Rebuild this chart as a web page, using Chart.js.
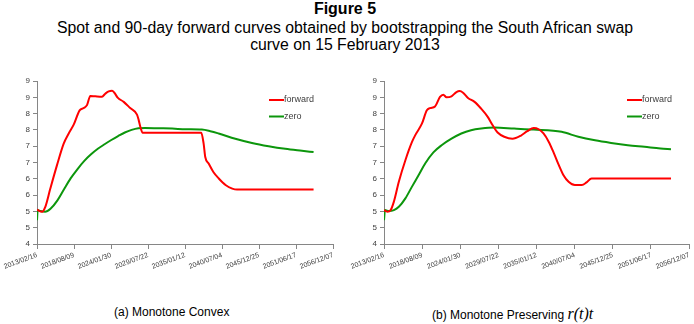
<!DOCTYPE html>
<html>
  <head>
    <meta charset="UTF-8" />
    <title>Figure 5</title>
    <script src="https://cdn.jsdelivr.net/npm/chart.js"></script>
    <style>
      body {
        margin: 0;
        width: 694px;
        height: 324px;
        background: white;
        font-family: "Liberation Sans", Arial, sans-serif;
        color: black;
        position: relative;
        overflow: hidden;
      }
      .title {
        position: absolute;
        left: 0;
        width: 690px;
        text-align: center;
        white-space: nowrap;
      }
      .box {
        position: absolute;
        top: 70px;
        width: 347px;
        height: 210px;
      }
      .sub {
        position: absolute;
        top: 305px;
        font-size: 12px;
        white-space: nowrap;
      }
      .math {
        font-family: "Liberation Serif", serif;
        font-style: italic;
        font-size: 16px;
      }
    </style>
  </head>
  <body>
    <div class="title" style="top: 0px; font-size: 16px; font-weight: bold">Figure 5</div>
    <div class="title" style="top: 19px; font-size: 15.8px">
      Spot and 90-day forward curves obtained by bootstrapping the South African swap
    </div>
    <div class="title" style="top: 36px; font-size: 15.8px">curve on 15 February 2013</div>

    <div class="box" style="left: 0px"><canvas id="left"></canvas></div>
    <div class="box" style="left: 347px"><canvas id="right"></canvas></div>

    <div class="sub" style="left: 114px">(a) Monotone Convex</div>
    <div class="sub" style="left: 432px">(b) Monotone Preserving <span class="math">r(t)t</span></div>

    <script>
      // x tick labels (every 2000 days from 2013/02/16)
      const xTickLabels = [
        "2013/02/16", "2018/08/09", "2024/01/30", "2029/07/22", "2035/01/12",
        "2040/07/04", "2045/12/25", "2051/06/17", "2056/12/07",
      ];
      const seriesNames = ["forward", "zero"];

      // (a) monotone convex: years from start, rate
      const convexFwdYears = [0, 0.74, 1.23, 1.97, 2.96, 3.95, 4.69, 5.43, 6.31, 6.9, 7.4, 7.89, 8.63, 9.62, 10.1, 10.6, 11.1, 11.45, 11.94, 12.83, 13.8, 14.8, 15.05, 15.3, 15.64, 24.31, 24.66, 24.9, 25.4, 26.1, 26.9, 27.9, 28.9, 29.6, 40.93];
      const convexFwd = [5.05, 4.99, 5.14, 5.7, 6.42, 7.08, 7.39, 7.66, 8.1, 8.17, 8.26, 8.54, 8.53, 8.52, 8.61, 8.68, 8.7, 8.64, 8.49, 8.36, 8.17, 7.97, 7.8, 7.59, 7.41, 7.41, 7.08, 6.67, 6.47, 6.21, 6.01, 5.81, 5.7, 5.67, 5.67];
      const convexZeroYears = [0, 0.1, 0.5, 1.2, 2, 3, 4, 5, 6, 7, 8, 9, 10, 11, 12, 13, 14, 15, 16, 18, 20, 22, 24.4, 25.65, 26.88, 29.35, 31.81, 34.28, 36.74, 39.21, 40.93];
      const convexZero = [4.73, 5.04, 5.01, 4.99, 5.08, 5.33, 5.68, 6.02, 6.3, 6.55, 6.75, 6.92, 7.06, 7.19, 7.31, 7.42, 7.5, 7.55, 7.56, 7.55, 7.54, 7.52, 7.51, 7.46, 7.39, 7.23, 7.1, 7.0, 6.92, 6.86, 6.82];

      // (b) monotone preserving r(t)t
      const preservFwdYears = [0, 0.47, 0.95, 1.42, 2.13, 3.07, 4.02, 4.49, 5.44, 6.15, 6.62, 7.33, 8.04, 8.51, 8.98, 9.69, 10.4, 10.87, 11.35, 12.06, 13.0, 13.95, 14.89, 15.6, 16.31, 17.26, 18.44, 19.62, 20.57, 21.5, 22.2, 22.9, 23.66, 24.4, 25.1, 25.77, 26.5, 27.4, 28.4, 29.08, 29.8, 41.2];
      const preservFwd = [5.04, 4.99, 5.04, 5.3, 5.91, 6.57, 7.13, 7.34, 7.69, 8.1, 8.17, 8.22, 8.51, 8.58, 8.5, 8.53, 8.66, 8.69, 8.64, 8.48, 8.36, 8.15, 7.9, 7.64, 7.42, 7.29, 7.23, 7.32, 7.46, 7.56, 7.52, 7.39, 7.13, 6.78, 6.42, 6.11, 5.91, 5.81, 5.81, 5.89, 6.01, 6.01];
      const preservZeroYears = [0, 0.14, 0.71, 1.42, 2.13, 3.07, 4.02, 4.96, 5.91, 7.09, 8.27, 9.69, 11.1, 12.5, 13.95, 15.84, 18.68, 21.5, 25.5, 27.9, 30.3, 32.6, 35.0, 37.4, 39.7, 41.2];
      const preservZero = [4.73, 5.04, 5.01, 5.04, 5.14, 5.4, 5.76, 6.11, 6.47, 6.81, 7.03, 7.23, 7.39, 7.49, 7.54, 7.57, 7.54, 7.51, 7.44, 7.29, 7.18, 7.1, 7.03, 6.98, 6.93, 6.91];

      const axisGrey = "#868686";
      const tickGrey = "#404040";

      function pts(years, vals) {
        return years.map((t, i) => ({ x: t * 365.25, y: vals[i] }));
      }

      // legend drawn inside the plot, top right
      const innerLegend = {
        id: "innerLegend",
        afterDraw(chart, args, opts) {
          const ctx = chart.ctx;
          const a = chart.chartArea;
          ctx.save();
          ctx.font = "9px 'Liberation Sans', Arial, sans-serif";
          ctx.textBaseline = "middle";
          chart.data.datasets.forEach((ds, i) => {
            const x = a.left + opts.dx;
            const y = a.top + 19 + i * 16.5;
            ctx.strokeStyle = ds.borderColor;
            ctx.lineWidth = 2;
            ctx.beginPath();
            ctx.moveTo(x, y);
            ctx.lineTo(x + 15, y);
            ctx.stroke();
            ctx.fillStyle = tickGrey;
            ctx.fillText(ds.label, x + 15, y);
          });
          ctx.restore();
        },
      };

      function makeChart(id, fwd, zero, padRight, legendDx) {
        return new Chart(document.getElementById(id), {
          type: "line",
          data: {
            datasets: [
              { label: seriesNames[0], data: fwd, borderColor: "#ff0000" },
              { label: seriesNames[1], data: zero, borderColor: "#0c960c" },
            ],
          },
          options: {
            responsive: true,
            maintainAspectRatio: false,
            animation: false,
            layout: { padding: { left: 4, right: padRight, top: 11, bottom: 0 } },
            elements: {
              point: { radius: 0 },
              line: { borderWidth: 2, cubicInterpolationMode: "monotone", fill: false },
            },
            plugins: {
              legend: { display: false },
              tooltip: { enabled: false },
              innerLegend: { dx: legendDx },
            },
            scales: {
              x: {
                type: "linear",
                min: 0,
                max: 16000,
                afterFit: (s) => { s.height = 36; },
                afterBuildTicks: (s) => {
                  s.ticks = xTickLabels.map((l, i) => ({ value: i * 2000 }));
                },
                ticks: {
                  autoSkip: false,
                  minRotation: 20,
                  maxRotation: 20,
                  padding: 2,
                  color: tickGrey,
                  font: { family: "'Liberation Sans', Arial", size: 7 },
                  callback: (v, i) => xTickLabels[i],
                },
                grid: { drawOnChartArea: false, drawTicks: true, tickLength: 5, color: axisGrey },
                border: { color: axisGrey },
              },
              y: {
                min: 4,
                max: 9,
                afterFit: (s) => { s.width = 33; },
                ticks: {
                  stepSize: 0.5,
                  padding: 3,
                  color: tickGrey,
                  font: { family: "'Liberation Sans', Arial", size: 8 },
                  callback: (v) => Math.round(v),
                },
                grid: { drawOnChartArea: false, drawTicks: true, tickLength: 4, color: axisGrey },
                border: { color: axisGrey },
              },
            },
          },
          plugins: [innerLegend],
        });
      }

      makeChart("left", pts(convexFwdYears, convexFwd), pts(convexZeroYears, convexZero), 14, 232);
      makeChart("right", pts(preservFwdYears, preservFwd), pts(preservZeroYears, preservZero), 1, 243);
    </script>
  </body>
</html>
